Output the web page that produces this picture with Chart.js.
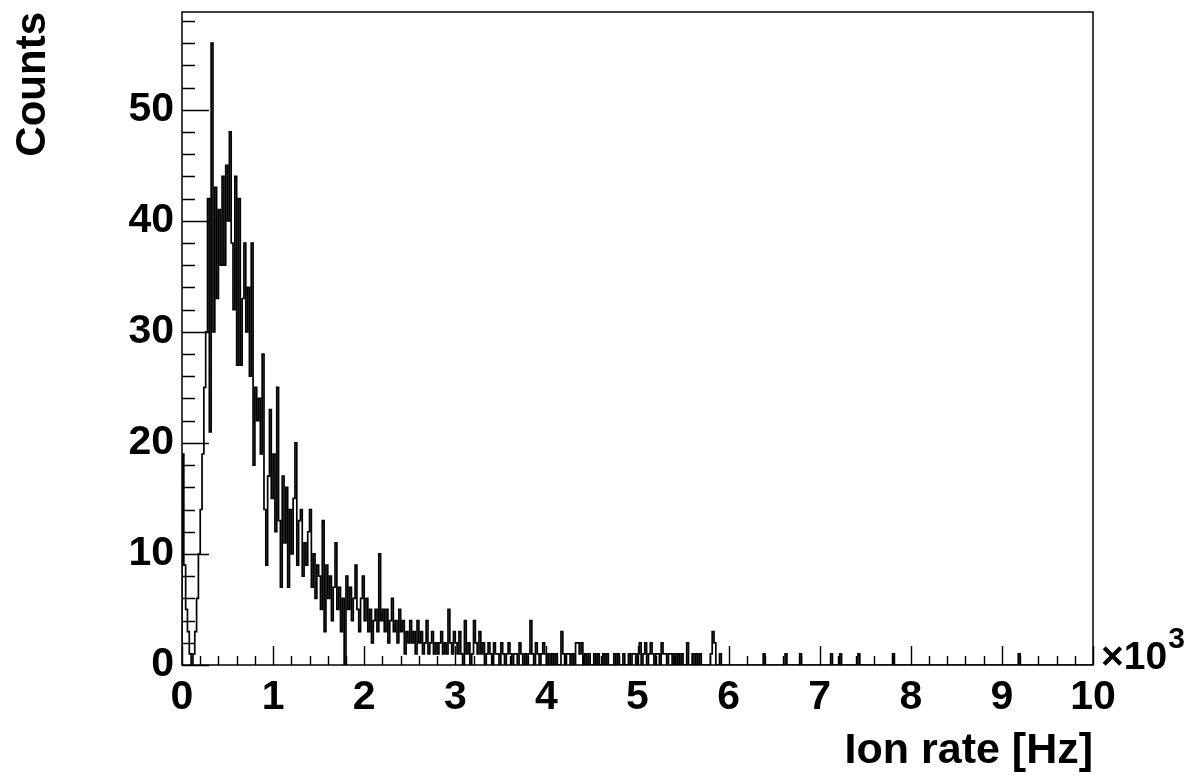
<!DOCTYPE html>
<html>
<head>
<meta charset="utf-8">
<script src="https://cdn.jsdelivr.net/npm/chart.js@4/dist/chart.umd.min.js"></script>
<style>
  html, body { margin: 0; padding: 0; background: #fff; }
  #wrap { width: 1195px; height: 782px; position: relative; }
</style>
</head>
<body>
<div id="wrap"><canvas id="rateChart"></canvas></div>
<script>
// histogram of ion rate, 20 Hz bins
const binWidth = 20;
const nBins = 500;

const counts0to1k = [19, 9, 5, 3, 1, 0, 1, 3, 6, 10,
  14, 19, 25, 30, 42, 21, 56, 30, 43, 33,
  41, 36, 44, 36, 45, 40, 48, 38, 32, 44,
  27, 42, 27, 33, 38, 30, 34, 26, 38, 18,
  25, 22, 24, 19, 28, 14, 9, 17, 23, 15];
const counts1to2k = [19, 12, 25, 13, 7, 17, 11, 16, 7, 14,
  10, 15, 20, 9, 13, 14, 8, 11, 9, 12,
  14, 7, 10, 6, 9, 8, 5, 13, 3, 9,
  6, 8, 4, 7, 11, 5, 7, 3, 6, 0,
  8, 5, 7, 4, 6, 9, 5, 3, 6, 8];
const counts2to3k = [4, 6, 3, 5, 2, 4, 5, 3, 10, 4,
  5, 3, 5, 2, 4, 6, 3, 4, 2, 5,
  3, 4, 1, 3, 2, 4, 2, 3, 1, 4,
  2, 3, 1, 2, 4, 1, 2, 3, 1, 2,
  1, 2, 3, 1, 2, 1, 5, 2, 1, 3];
const counts3to4k = [2, 1, 3, 1, 0, 4, 1, 2, 0, 1,
  4, 2, 1, 3, 1, 2, 0, 1, 2, 1,
  0, 2, 1, 1, 0, 2, 1, 0, 1, 2,
  1, 0, 1, 1, 0, 2, 1, 0, 1, 0,
  1, 4, 1, 0, 2, 1, 0, 1, 2, 1];
const counts4to5k = [0, 1, 0, 1, 0, 1, 0, 0, 3, 1,
  0, 1, 1, 0, 1, 0, 2, 2, 1, 2,
  0, 1, 0, 1, 0, 0, 1, 0, 1, 0,
  0, 1, 0, 1, 0, 0, 0, 1, 0, 1,
  0, 0, 1, 0, 0, 1, 0, 1, 1, 0];
const counts5to6k = [1, 2, 0, 1, 2, 0, 1, 2, 1, 0,
  1, 1, 0, 2, 1, 1, 0, 1, 1, 0,
  1, 0, 1, 0, 1, 0, 0, 2, 0, 0,
  1, 0, 1, 0, 1, 0, 0, 0, 0, 0,
  1, 3, 2, 0, 0, 1, 0, 0, 0, 0];
// isolated entries above 6 kHz
const tailRate = [6380, 6620, 6780, 7120, 7220, 7420, 7800, 9180];
const tailCount = [1, 1, 1, 1, 1, 1, 1, 1];

const xTickLabels = ['0', '1', '2', '3', '4', '5', '6', '7', '8', '9', '10'];
const yTickLabels = ['0', '10', '20', '30', '40', '50'];

const counts = counts0to1k.concat(counts1to2k, counts2to3k, counts3to4k, counts4to5k, counts5to6k);
while (counts.length < nBins) counts.push(0);
tailRate.forEach((r, i) => { counts[Math.floor(r / binWidth)] = tailCount[i]; });

const histPoints = [{ x: 0, y: 0 }];
counts.forEach((c, i) => histPoints.push({ x: i * binWidth, y: c }));
histPoints.push({ x: nBins * binWidth, y: 0 });

const FONT = '"Liberation Sans", Arial, Helvetica, sans-serif';

// ROOT style frame, inner ticks and the x10^3 exponent
const rootFrame = {
  id: 'rootFrame',
  afterDraw(chart) {
    const { ctx, chartArea: a, scales } = chart;
    const xs = scales.x, ys = scales.y;
    ctx.save();
    ctx.strokeStyle = '#000';
    ctx.lineWidth = 1.5;
    ctx.strokeRect(a.left, a.top, a.right - a.left, a.bottom - a.top);
    ctx.lineWidth = 1.4;
    ctx.beginPath();
    for (let v = 0; v <= 10000; v += 200) {
      const px = Math.round(xs.getPixelForValue(v)) + 0.5;
      const len = v % 1000 === 0 ? 19 : 9;
      ctx.moveTo(px, a.bottom);
      ctx.lineTo(px, a.bottom - len);
    }
    for (let v = 0; v <= ys.max; v += 2) {
      const py = Math.round(ys.getPixelForValue(v)) + 0.5;
      const len = v % 10 === 0 ? 27 : 13;
      ctx.moveTo(a.left, py);
      ctx.lineTo(a.left + len, py);
    }
    ctx.stroke();
    ctx.fillStyle = '#000';
    ctx.textAlign = 'left';
    ctx.textBaseline = 'alphabetic';
    ctx.font = 'bold 39px ' + FONT;
    ctx.fillText('\u00d710', a.right + 8, a.bottom + 4);
    const w = ctx.measureText('\u00d710').width;
    ctx.font = 'bold 30px ' + FONT;
    ctx.fillText('3', a.right + 8 + w + 1, a.bottom - 17);
    ctx.restore();
  }
};

new Chart(document.getElementById('rateChart'), {
  type: 'line',
  data: {
    datasets: [{
      label: 'Ion rate',
      data: histPoints,
      stepped: 'before',
      borderColor: '#000',
      borderWidth: 1.7,
      pointRadius: 0,
      fill: false
    }]
  },
  options: {
    responsive: true,
    maintainAspectRatio: false,
    animation: false,
    layout: { padding: { left: 0, top: 12, right: 102, bottom: 0 } },
    plugins: { legend: { display: false }, tooltip: { enabled: false } },
    scales: {
      x: {
        type: 'linear',
        min: 0,
        max: 10000,
        grid: { display: false, drawTicks: false },
        border: { display: false },
        ticks: {
          stepSize: 1000,
          padding: 8,
          color: '#000',
          maxRotation: 0,
          font: { family: FONT, size: 41, weight: 'bold' },
          callback: (v) => xTickLabels[Math.round(v / 1000)]
        },
        title: {
          display: true,
          text: 'Ion rate [Hz]',
          align: 'end',
          color: '#000',
          padding: { top: 0, bottom: 5 },
          font: { family: FONT, size: 43, weight: 'bold' }
        },
        afterFit: (s) => { s.height = 117; s.paddingLeft = 0; s.paddingRight = 0; }
      },
      y: {
        type: 'linear',
        min: 0,
        max: 58.8,
        grid: { display: false, drawTicks: false },
        border: { display: false },
        ticks: {
          stepSize: 10,
          includeBounds: false,
          padding: 8,
          color: '#000',
          font: { family: FONT, size: 41, weight: 'bold' },
          callback: (v) => yTickLabels[Math.round(v / 10)]
        },
        title: {
          display: true,
          text: 'Counts',
          align: 'end',
          color: '#000',
          padding: { top: 8, bottom: 0 },
          font: { family: FONT, size: 42, weight: 'bold' }
        },
        afterFit: (s) => { s.width = 182; s.paddingTop = 0; s.paddingBottom = 0; }
      }
    }
  },
  plugins: [rootFrame]
});
</script>
</body>
</html>
